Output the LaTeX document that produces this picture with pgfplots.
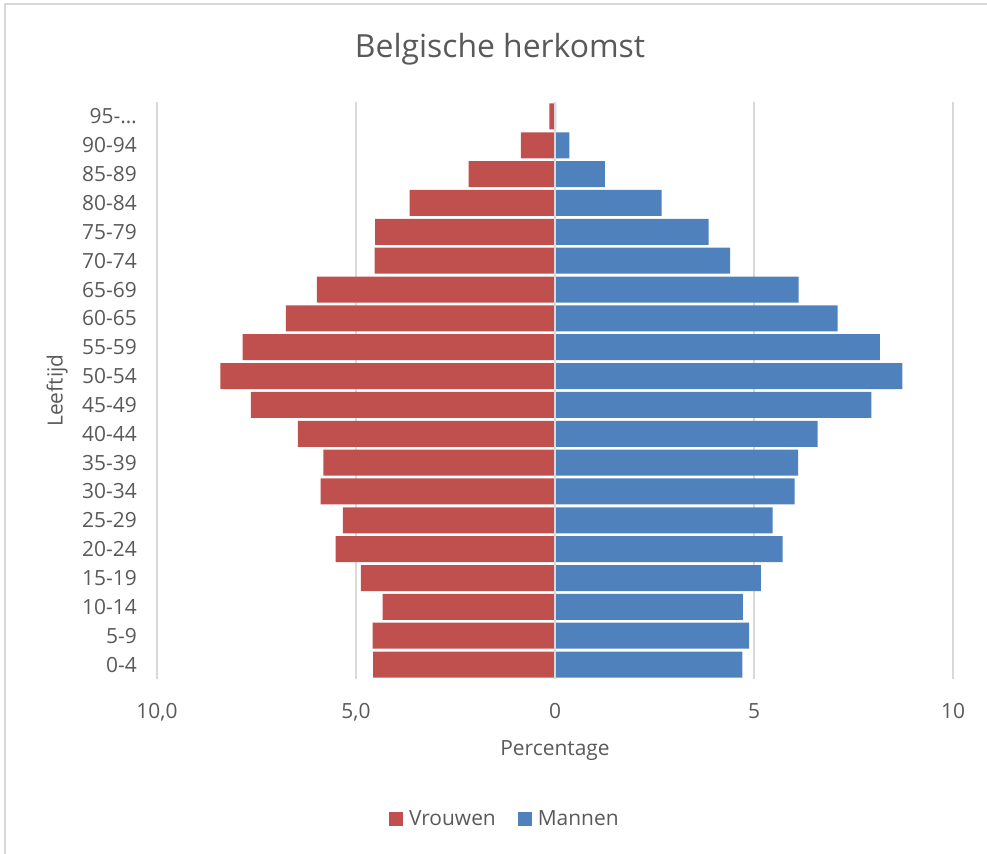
\documentclass[border=0pt]{standalone}
\usepackage{fontspec}
\setmainfont{Open Sans}
\usepackage{pgfplots}
\pgfplotsset{compat=1.18}
\usepackage{pgfplotstable}
\definecolor{vred}{HTML}{C0504D}
\definecolor{mblue}{HTML}{4F81BD}
\definecolor{txt}{HTML}{595959}
\definecolor{gridgray}{HTML}{D9D9D9}
\pgfplotstableread{
idx v m
0 -4.57 4.71
1 -4.58 4.88
2 -4.33 4.72
3 -4.88 5.17
4 -5.51 5.72
5 -5.33 5.47
6 -5.89 6.02
7 -5.82 6.11
8 -6.46 6.60
9 -7.64 7.95
10 -8.41 8.73
11 -7.85 8.16
12 -6.76 7.10
13 -5.98 6.12
14 -4.53 4.40
15 -4.52 3.86
16 -3.65 2.68
17 -2.17 1.25
18 -0.86 0.36
19 -0.14 0.03
}\data
\begin{document}
\begin{tikzpicture}
\useasboundingbox (0bp,0bp) rectangle (987bp,854bp);
\draw[gridgray, line width=1.2bp] (5bp,0bp) -- (5bp,850bp) -- (987bp,850bp);
\begin{axis}[
  at={(157bp,175bp)}, anchor=south west,
  width=796bp, height=577bp, scale only axis,
  xbar, bar width=0.9, bar shift=0pt,
  xmin=-10, xmax=10, ymin=-0.5, ymax=19.5,
  xtick={-10,-5,0,5,10},
  xticklabels={{10,0},{5,0},0,5,10},
  ytick={0,...,19},
  yticklabels={0-4,5-9,10-14,15-19,20-24,25-29,30-34,35-39,40-44,45-49,50-54,55-59,60-65,65-69,70-74,75-79,80-84,85-89,90-94,95-…},
  axis line style={draw=none},
  major tick length=0pt,
  tick style={draw=none},
  xmajorgrids=true, ymajorgrids=false,
  grid style={color=gridgray, line width=1.5bp},
  tick label style={font=\fontsize{21}{25}\selectfont, text=txt},
  /pgf/number format/assume math mode=true,
  xticklabel style={anchor=center, inner sep=0pt, text height=15bp, text depth=0pt, yshift=-32bp},
  yticklabel style={anchor=east, inner sep=0pt, text height=15bp, text depth=0pt, xshift=-20bp},
  xlabel={Percentage},
  xlabel style={at={(axis description cs:0.5,-0.1247)}, anchor=center, font=\fontsize{21}{25}\selectfont, text=txt},
  ylabel={Leeftijd},
  ylabel style={at={(axis description cs:-0.1256,0.5)}, anchor=center, font=\fontsize{21}{25}\selectfont, text=txt},
  title={Belgische herkomst},
  title style={at={(axis description cs:0.431,1.0814)}, anchor=center, font=\fontsize{32}{38}\selectfont, text=txt},
  legend columns=2,
  legend style={at={(axis description cs:0.437,-0.2426)}, anchor=center, draw=none, fill=none,
    font=\fontsize{21}{25}\selectfont, text=txt, inner sep=0pt,
    /tikz/every even column/.append style={column sep=20bp}},
  legend image code/.code={\fill[#1] (0bp,-7bp) rectangle (14bp,7bp); \path (18bp,0bp);},
]
\addplot[fill=vred, draw=none] table[x=v, y=idx] {\data};
\addlegendentry{Vrouwen}
\addplot[fill=mblue, draw=none] table[x=m, y=idx] {\data};
\addlegendentry{Mannen}
\draw[gridgray, line width=1.5bp] (axis cs:0,-0.5) -- (axis cs:0,19.5);
\end{axis}
\end{tikzpicture}
\end{document}
